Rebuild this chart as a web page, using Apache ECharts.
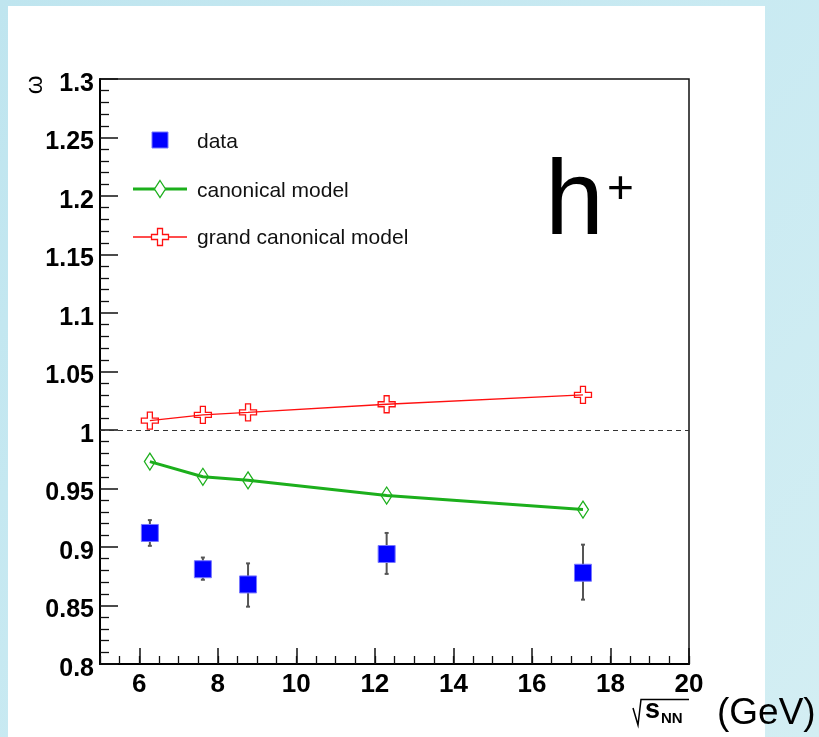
<!DOCTYPE html>
<html>
<head>
<meta charset="utf-8">
<script src="https://cdn.jsdelivr.net/npm/echarts@6/dist/echarts.min.js"></script>
<style>
  html, body { margin: 0; padding: 0; }
  #chart { width: 819px; height: 737px; }
</style>
</head>
<body>
<div id="chart"></div>
<script>
// Collision energies sqrt(s_NN) in GeV
const energies = [6.27, 7.62, 8.77, 12.3, 17.3];
// Measured scaled variance for positive hadrons
const dataOmega = [0.912, 0.881, 0.868, 0.894, 0.878];
const dataErrLow = [0.901, 0.872, 0.849, 0.877, 0.855];
const dataErrHigh = [0.923, 0.891, 0.886, 0.912, 0.902];
// Model predictions
const canonical = [0.973, 0.960, 0.957, 0.944, 0.932];
const grandCanonical = [1.008, 1.013, 1.015, 1.022, 1.030];
// Axis ticks
const xTickValues = [6, 8, 10, 12, 14, 16, 18, 20];
const referenceLevel = 1;

const FONT = '"Liberation Sans", Arial, Helvetica, sans-serif';
const GREEN = '#1caf1c';
const RED = '#ff1010';
const BLUE = '#0000ff';
const CROSS = 'path://M6,0H11V6H17V11H11V17H6V11H0V6H6Z';

const chart = echarts.init(document.getElementById('chart'), null, { renderer: 'canvas' });

const pairs = (ys) => energies.map((x, i) => [x, ys[i]]);

const option = {
  animation: false,
  backgroundColor: {
    type: 'linear', x: 0, y: 0, x2: 1, y2: 1,
    colorStops: [
      { offset: 0, color: '#bfe5ef' },
      { offset: 0.5, color: '#c9eaf2' },
      { offset: 1, color: '#d3eef3' }
    ]
  },
  grid: {
    left: 100, right: 130, top: 79, bottom: 73,
    show: true, borderColor: '#111', borderWidth: 1.5, backgroundColor: 'transparent'
  },
  xAxis: [
    {
      type: 'value', min: 5, max: 20, interval: 0.5, position: 'bottom',
      axisLine: { show: true, lineStyle: { color: '#000', width: 2 } },
      axisTick: { show: true, inside: true, length: 8, lineStyle: { color: '#111', width: 1.3 } },
      axisLabel: { show: false },
      splitLine: { show: false }
    },
    {
      type: 'value', min: 5, max: 20, position: 'bottom',
      axisLine: { show: false },
      axisTick: { show: true, inside: true, length: 16, customValues: xTickValues,
        lineStyle: { color: '#111', width: 1.5 } },
      axisLabel: { show: true, customValues: xTickValues, margin: 8,
        color: '#000', fontFamily: FONT, fontWeight: 'bold', fontSize: 26 },
      splitLine: { show: false }
    }
  ],
  yAxis: {
    type: 'value', min: 0.8, max: 1.3, interval: 0.05,
    axisLine: { show: true, lineStyle: { color: '#000', width: 2 } },
    axisTick: { show: true, inside: true, length: 18, lineStyle: { color: '#111', width: 1.5 } },
    minorTick: { show: true, splitNumber: 5, length: 9, lineStyle: { color: '#111', width: 1.3 } },
    axisLabel: { show: true, margin: 6,
      formatter: (v) => '{v|' + (+v.toFixed(2)) + '}',
      rich: {
        v: { color: '#000', fontFamily: FONT, fontWeight: 'bold', fontSize: 25,
          lineHeight: 35, verticalAlign: 'bottom' }
      } },
    splitLine: { show: false },
    minorSplitLine: { show: false }
  },
  series: [
    {
      name: 'error',
      type: 'custom',
      xAxisIndex: 0,
      z: 3,
      data: energies.map((x, i) => [x, dataErrLow[i], dataErrHigh[i]]),
      renderItem: (params, api) => {
        const lo = api.coord([api.value(0), api.value(1)]);
        const hi = api.coord([api.value(0), api.value(2)]);
        const st = { stroke: '#555', lineWidth: 2 };
        return {
          type: 'group',
          children: [
            { type: 'line', shape: { x1: lo[0], y1: lo[1], x2: hi[0], y2: hi[1] }, style: st },
            { type: 'line', shape: { x1: lo[0] - 2, y1: lo[1], x2: lo[0] + 2, y2: lo[1] }, style: st },
            { type: 'line', shape: { x1: hi[0] - 2, y1: hi[1], x2: hi[0] + 2, y2: hi[1] }, style: st }
          ]
        };
      }
    },
    {
      name: 'data',
      type: 'scatter',
      xAxisIndex: 0,
      z: 4,
      symbol: 'rect',
      symbolSize: 17,
      itemStyle: { color: BLUE, borderColor: '#7777ff', borderWidth: 1, opacity: 1 },
      data: pairs(dataOmega)
    },
    {
      name: 'canonical model',
      type: 'line',
      xAxisIndex: 0,
      z: 5,
      symbol: 'diamond',
      symbolSize: [11, 17],
      showAllSymbol: true,
      lineStyle: { color: GREEN, width: 3 },
      itemStyle: { color: 'rgba(255,255,255,0)', borderColor: GREEN, borderWidth: 1.3 },
      data: pairs(canonical)
    },
    {
      name: 'grand canonical model',
      type: 'line',
      xAxisIndex: 0,
      z: 5,
      symbol: CROSS,
      symbolSize: 17,
      showAllSymbol: true,
      lineStyle: { color: RED, width: 1.3 },
      itemStyle: { color: 'rgba(255,255,255,0)', borderColor: RED, borderWidth: 1.3 },
      data: pairs(grandCanonical),
      markLine: {
        silent: true,
        symbol: ['none', 'none'],
        label: { show: false },
        lineStyle: { color: '#333', width: 1.2, type: [5, 4] },
        data: [{ yAxis: referenceLevel }]
      }
    }
  ],
  graphic: [
    // white canvas panel
    { type: 'rect', z: -100, silent: true, shape: { x: 8, y: 6, width: 757, height: 731 },
      style: { fill: '#ffffff' } },
    // legend: data
    { type: 'rect', shape: { x: 152, y: 132, width: 16, height: 16 },
      style: { fill: BLUE, stroke: '#7777ff', lineWidth: 1 } },
    { type: 'text', x: 197, y: 142, style: { text: 'data', font: '21px ' + FONT, fill: '#111', verticalAlign: 'middle' } },
    // legend: canonical model
    { type: 'line', shape: { x1: 133, y1: 189, x2: 187, y2: 189 }, style: { stroke: GREEN, lineWidth: 3 } },
    { type: 'polygon', shape: { points: [[160, 180.5], [165.5, 189], [160, 197.5], [154.5, 189]] },
      style: { fill: '#fff', stroke: GREEN, lineWidth: 1.3 } },
    { type: 'text', x: 197, y: 191, style: { text: 'canonical model', font: '21px ' + FONT, fill: '#111', verticalAlign: 'middle' } },
    // legend: grand canonical model
    { type: 'line', shape: { x1: 133, y1: 237, x2: 187, y2: 237 }, style: { stroke: RED, lineWidth: 1.5 } },
    { type: 'polygon', shape: { points: [[157.5, 228.5], [162.5, 228.5], [162.5, 234.5], [168.5, 234.5], [168.5, 239.5],
        [162.5, 239.5], [162.5, 245.5], [157.5, 245.5], [157.5, 239.5], [151.5, 239.5], [151.5, 234.5], [157.5, 234.5]] },
      style: { fill: '#fff', stroke: RED, lineWidth: 1.3 } },
    { type: 'text', x: 197, y: 238, style: { text: 'grand canonical model', font: '21px ' + FONT, fill: '#111', verticalAlign: 'middle' } },
    // particle label
    { type: 'text', x: 545, y: 205, style: { text: 'h', font: '106px ' + FONT, fill: '#000', verticalAlign: 'middle' } },
    { type: 'text', x: 607, y: 190, style: { text: '+', font: '46px ' + FONT, fill: '#000', verticalAlign: 'middle' } },
    // y axis title
    { type: 'text', x: 35, y: 85, rotation: Math.PI / 2,
      style: { text: 'ω', font: '24px ' + FONT, fill: '#000', align: 'center', verticalAlign: 'middle' } },
    // x axis title: sqrt(s_NN) (GeV)
    { type: 'polyline', shape: { points: [[633, 708], [638, 725], [641, 699.5], [689, 699.5]] },
      style: { stroke: '#000', lineWidth: 1.5, fill: null } },
    { type: 'text', x: 645, y: 711, style: { text: 's', font: 'bold 27px ' + FONT, fill: '#000', verticalAlign: 'middle' } },
    { type: 'text', x: 661, y: 719, style: { text: 'NN', font: 'bold 15px ' + FONT, fill: '#000', verticalAlign: 'middle' } },
    { type: 'text', x: 717, y: 714, style: { text: '(GeV)', font: '37px ' + FONT, fill: '#000', verticalAlign: 'middle' } }
  ]
};

chart.setOption(option);
</script>
</body>
</html>
